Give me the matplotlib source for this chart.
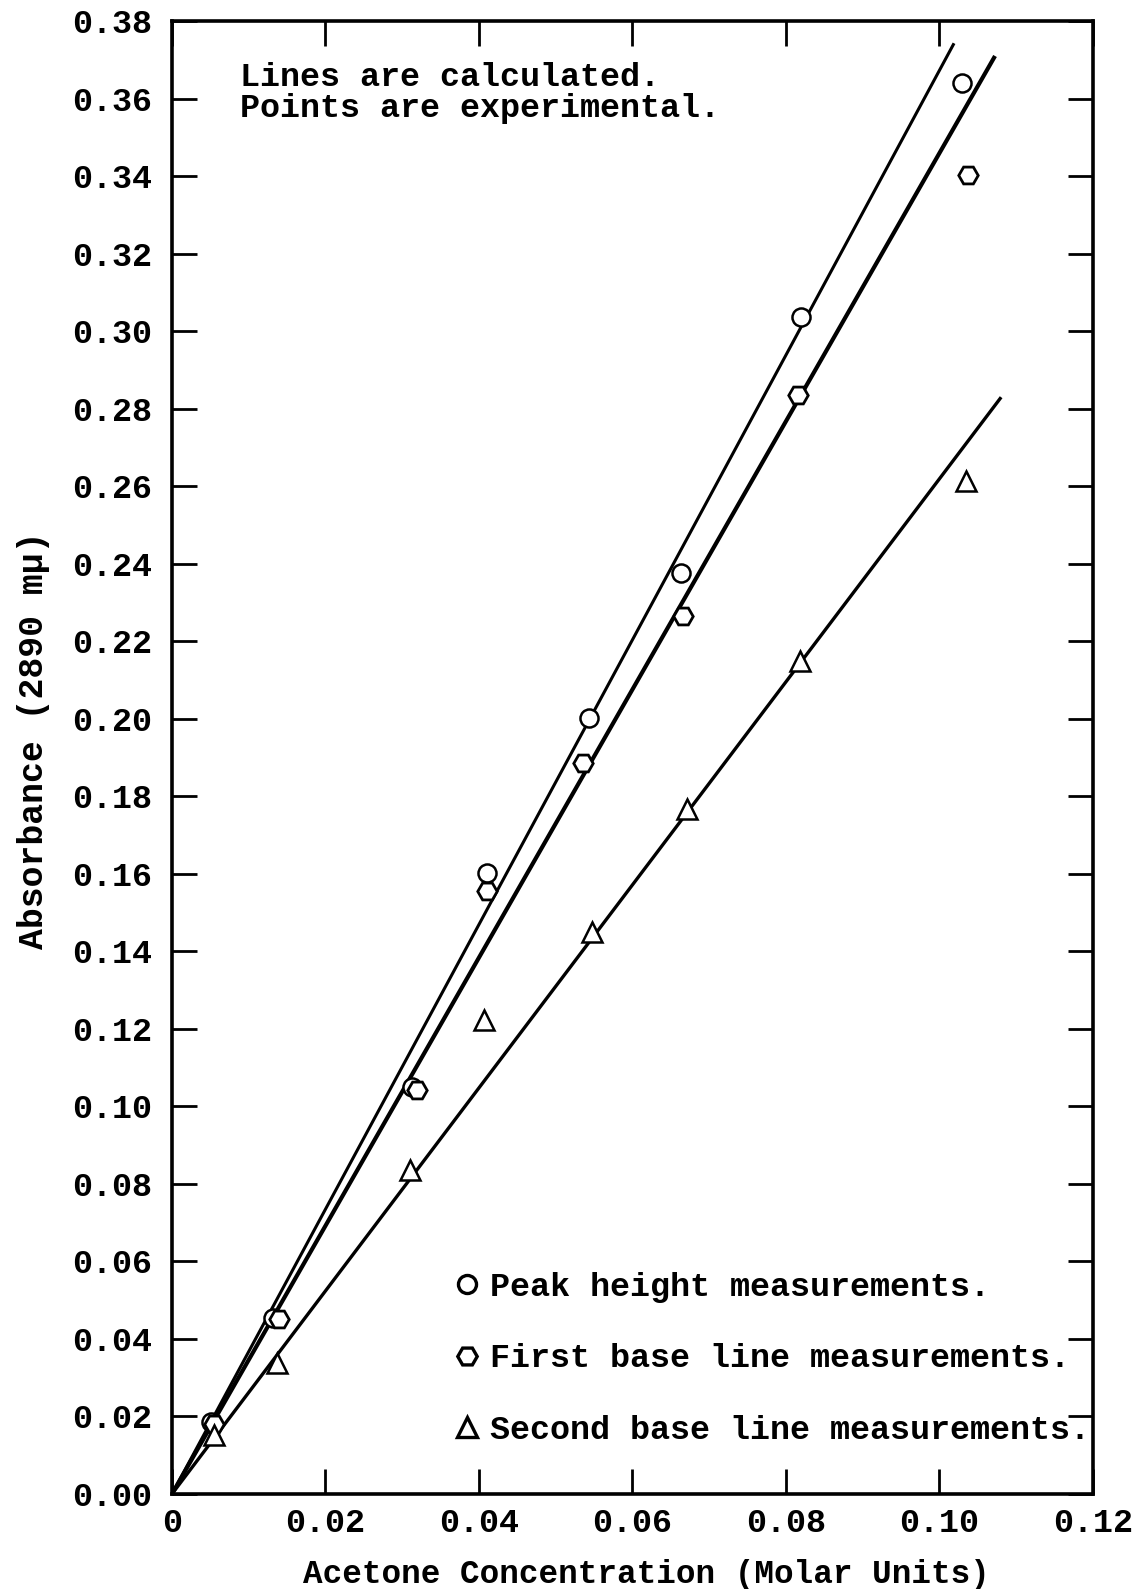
import matplotlib
matplotlib.use("Agg")
import matplotlib.pyplot as plt
from matplotlib.lines import Line2D

# experimental points
peak_x = [0.0051, 0.0132, 0.0313, 0.0411, 0.0543, 0.0663, 0.0819, 0.1029]
peak_y = [0.0186, 0.0455, 0.1049, 0.1601, 0.2001, 0.2377, 0.3036, 0.3640]

first_x = [0.0055, 0.0140, 0.0319, 0.0411, 0.0535, 0.0666, 0.0816, 0.1037]
first_y = [0.0181, 0.0452, 0.1043, 0.1556, 0.1886, 0.2265, 0.2835, 0.3402]

second_x = [0.0055, 0.0137, 0.0310, 0.0407, 0.0547, 0.0671, 0.0818, 0.1034]
second_y = [0.0152, 0.0338, 0.0835, 0.1224, 0.1449, 0.1768, 0.2150, 0.2612]

# calculated lines (through origin)
peak_fit_x = [0.0, 0.1018]
peak_fit_y = [0.0, 0.3739]
first_fit_x = [0.0, 0.1071]
first_fit_y = [0.0, 0.3705]
second_fit_x = [0.0, 0.1079]
second_fit_y = [0.0, 0.2826]

xticks = [0, 0.02, 0.04, 0.06, 0.08, 0.10, 0.12]
xtick_labels = ["0", "0.02", "0.04", "0.06", "0.08", "0.10", "0.12"]
yticks = [i * 0.02 for i in range(20)]
ytick_labels = ["%.2f" % v for v in yticks]

labels = ["Peak height measurements.",
          "First base line measurements.",
          "Second base line measurements."]

font = "Liberation Mono"
fs = 24

fig = plt.figure(figsize=(11.35, 15.89), dpi=100)
ax = fig.add_axes([0.1515, 0.0598, 0.963 - 0.1515, 0.9868 - 0.0598])

ax.plot(peak_fit_x, peak_fit_y, color="black", lw=2.2, zorder=2)
ax.plot(first_fit_x, first_fit_y, color="black", lw=3.0, zorder=2)
ax.plot(second_fit_x, second_fit_y, color="black", lw=2.4, zorder=2)

ms = 13
ax.plot(peak_x, peak_y, "o", ms=ms, mfc="white", mec="black", mew=1.8, zorder=3)
ax.plot(first_x, first_y, "H", ms=ms + 1, mfc="white", mec="black", mew=2.0, zorder=3)
ax.plot(second_x, second_y, "^", ms=ms + 1, mfc="white", mec="black", mew=1.8, zorder=3)

ax.set_xlim(0, 0.12)
ax.set_ylim(0, 0.38)
ax.set_xticks(xticks)
ax.set_xticklabels(xtick_labels, family=font, fontsize=fs, fontweight="bold")
ax.set_yticks(yticks)
ax.set_yticklabels(ytick_labels, family=font, fontsize=fs, fontweight="bold")
ax.tick_params(direction="in", top=True, right=True, length=18, width=2.0)
ax.tick_params(axis="y", pad=14)
ax.tick_params(axis="x", pad=10)
for s in ax.spines.values():
    s.set_linewidth(2.6)

ax.set_xlabel("Acetone Concentration (Molar Units)", family=font,
              fontsize=23.5, fontweight="bold")
ax.xaxis.set_label_coords(0.515, -0.044)
ax.set_ylabel("Absorbance (2890 m\u03bc)", family=font, fontsize=25,
              fontweight="bold")
ax.yaxis.set_label_coords(-0.132, 0.512)

ax.text(0.074, 0.972, "Lines are calculated.\nPoints are experimental.",
        transform=ax.transAxes, family=font, fontsize=fs, fontweight="bold",
        va="top", ha="left", linespacing=1.0)

handles = [
    Line2D([], [], ls="none", marker="o", ms=ms, mfc="white", mec="black", mew=2.4),
    Line2D([], [], ls="none", marker="H", ms=ms + 1, mfc="white", mec="black", mew=2.4),
    Line2D([], [], ls="none", marker="^", ms=ms + 1, mfc="white", mec="black", mew=2.4),
]
ax.legend(handles, labels, loc="upper left", bbox_to_anchor=(0.309, 0.151),
          frameon=False, handlelength=0.6, handletextpad=0.4,
          labelspacing=1.22, borderpad=0, borderaxespad=0,
          prop={"family": font, "size": fs, "weight": "bold"})

fig.savefig("out.png", dpi=100)
